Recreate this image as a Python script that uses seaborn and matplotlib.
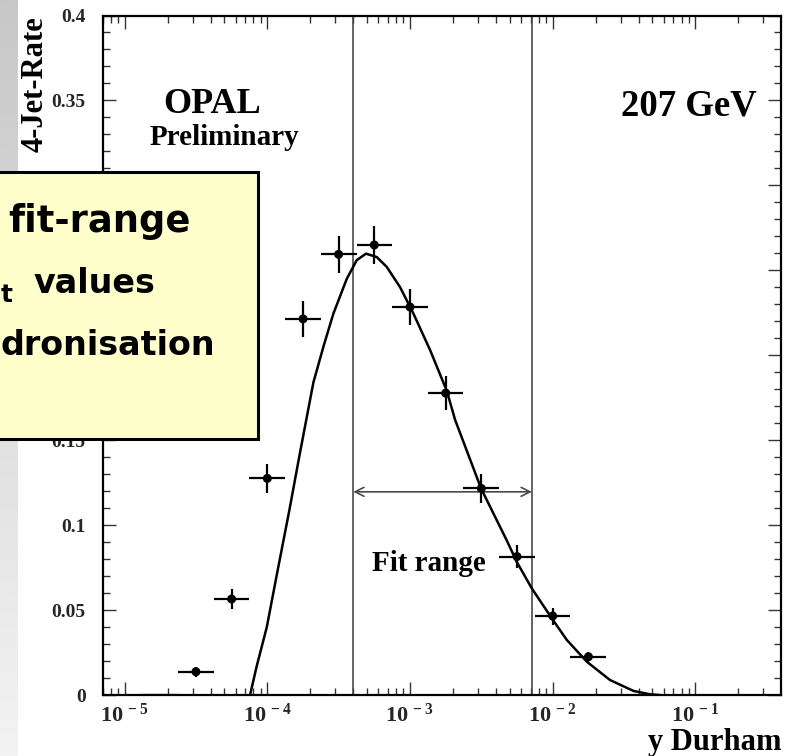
import numpy as np
import pandas as pd
import matplotlib
matplotlib.use("Agg")
import matplotlib.pyplot as plt
import seaborn as sns
from matplotlib.patches import Rectangle
from matplotlib.ticker import FixedLocator, FixedFormatter, MultipleLocator, LogLocator, NullFormatter

# ---------------- data ----------------
bin_center = [1.78e-5, 3.16e-5, 5.62e-5, 1.0e-4, 1.78e-4, 3.16e-4, 5.62e-4,
              1.0e-3, 1.78e-3, 3.16e-3, 5.62e-3, 1.0e-2, 1.78e-2]
bin_low = [1.33e-5, 2.37e-5, 4.22e-5, 7.5e-5, 1.33e-4, 2.37e-4, 4.22e-4,
           7.5e-4, 1.33e-3, 2.37e-3, 4.22e-3, 7.5e-3, 1.33e-2]
bin_high = [2.37e-5, 4.22e-5, 7.5e-5, 1.33e-4, 2.37e-4, 4.22e-4, 7.5e-4,
            1.33e-3, 2.37e-3, 4.22e-3, 7.5e-3, 1.33e-2, 2.37e-2]
rate = [0.0, 0.0137, 0.0565, 0.1275, 0.2214, 0.2594, 0.2649,
        0.2284, 0.1777, 0.1216, 0.0815, 0.0465, 0.0225]
rate_err = [0.0, 0.003, 0.006, 0.0085, 0.0106, 0.0108, 0.011,
            0.0106, 0.0098, 0.0083, 0.007, 0.005, 0.003]

fit_x = [7.57e-5, 8.43e-5, 9.92e-5, 1.167e-4, 1.429e-4, 1.698e-4, 2.104e-4,
         2.472e-4, 2.904e-4, 3.606e-4, 4.236e-4, 4.920e-4, 5.848e-4, 6.871e-4,
         8.531e-4, 1.057e-3, 1.384e-3, 1.811e-3, 2.070e-3, 3.148e-3, 4.764e-3,
         5.598e-3, 7.145e-3, 9.863e-3, 1.256e-2, 1.734e-2, 2.523e-2, 3.681e-2,
         4.819e-2, 5.62e-2]
fit_y = [0.0, 0.017, 0.040, 0.071, 0.109, 0.143, 0.184,
         0.205, 0.2245, 0.245, 0.256, 0.2598, 0.2578, 0.252,
         0.240, 0.2245, 0.203, 0.179, 0.162, 0.1216, 0.091,
         0.0784, 0.0627, 0.0451, 0.0324, 0.0196, 0.0088, 0.0024,
         0.0004, 0.0]

fit_range = [4.0e-4, 7.15e-3]
fit_arrow_y = 0.1196

xtick_vals = [1e-5, 1e-4, 1e-3, 1e-2, 1e-1]
xtick_labels = [r"$\mathbf{10^{\,-5}}$", r"$\mathbf{10^{\,-4}}$", r"$\mathbf{10^{\,-3}}$",
                r"$\mathbf{10^{\,-2}}$", r"$\mathbf{10^{\,-1}}$"]
ytick_vals = [0, 0.05, 0.1, 0.15, 0.2, 0.25, 0.3, 0.35, 0.4]
# labels 0.2-0.3 sit fully under the note box in the reference
ytick_labels = ["0", "0.05", "0.1", "0.15", "", "", "", "0.35", "0.4"]

df = pd.DataFrame({"y": bin_center, "rate": rate, "err": rate_err,
                   "lo": bin_low, "hi": bin_high})
fit_df = pd.DataFrame({"y": fit_x, "rate": fit_y})

# ---------------- style ----------------
sns.set_style("ticks")
plt.rcParams["font.family"] = ["Liberation Serif", "DejaVu Serif"]
plt.rcParams["mathtext.fontset"] = "custom"
plt.rcParams["mathtext.bf"] = "Liberation Serif:bold"
plt.rcParams["mathtext.rm"] = "Liberation Serif:bold"

W, H = 791, 756
fig = plt.figure(figsize=(W / 100, H / 100), dpi=100)
fig.patch.set_facecolor("white")

def fx(px):
    return px / W

def fy(py):
    return 1 - py / H

ax = fig.add_axes([fx(102.5), fy(695), (781 - 102.5) / W, (695 - 15.5) / H])

# fit range lines and arrow
for v in fit_range:
    ax.axvline(v, color="#4a4a4a", lw=1.2, zorder=1)
ax.annotate("", xy=(fit_range[1], fit_arrow_y), xytext=(fit_range[0], fit_arrow_y),
            arrowprops=dict(arrowstyle="<->", color="#4a4a4a", lw=1.2,
                            shrinkA=0, shrinkB=0, mutation_scale=16))

# error bars
xerr = [df["y"] - df["lo"], df["hi"] - df["y"]]
ax.errorbar(df["y"], df["rate"], xerr=xerr, yerr=df["err"], fmt="none",
            ecolor="black", elinewidth=1.6, capsize=0, zorder=3)
# markers
sns.scatterplot(data=df[df["rate"] > 0], x="y", y="rate", ax=ax, color="black",
                s=42, edgecolor="none", zorder=4, legend=False)
# fit curve
sns.lineplot(data=fit_df, x="y", y="rate", ax=ax, color="black", lw=1.8,
             sort=False, estimator=None, zorder=5)

ax.set_xscale("log")
ax.set_xlim(7.0e-6, 0.398)
ax.set_ylim(0, 0.4)
ax.set_xlabel("")
ax.set_ylabel("")

ax.xaxis.set_major_locator(FixedLocator(xtick_vals))
ax.xaxis.set_major_formatter(FixedFormatter(xtick_labels))
ax.xaxis.set_minor_locator(LogLocator(base=10, subs=np.arange(2, 10), numticks=20))
ax.xaxis.set_minor_formatter(NullFormatter())
ax.yaxis.set_major_locator(FixedLocator(ytick_vals))
ax.yaxis.set_major_formatter(FixedFormatter(ytick_labels))
ax.yaxis.set_minor_locator(MultipleLocator(0.01))

ax.tick_params(which="both", direction="in", top=True, right=True, width=1.0,
               color="#333333")
ax.tick_params(which="major", length=9.5)
ax.tick_params(which="minor", length=5)
ax.tick_params(axis="x", which="major", labelsize=16, pad=6)
ax.tick_params(axis="y", which="major", labelsize=14, pad=12)
for lab in ax.get_yticklabels():
    lab.set_fontweight("bold")
for s in ax.spines.values():
    s.set_linewidth(1.6)
    s.set_color("black")

# texts
bold = dict(fontweight="bold", family=["Liberation Serif", "DejaVu Serif"], color="black")
fig.text(fx(163), fy(113), "OPAL", fontsize=26, ha="left", va="baseline", **bold)
fig.text(fx(150), fy(145), "Preliminary", fontsize=21, ha="left", va="baseline", **bold)
fig.text(fx(757), fy(115), "207 GeV", fontsize=26.5, ha="right", va="baseline", **bold)
fig.text(fx(372), fy(571), "Fit range", fontsize=21, ha="left", va="baseline", **bold)
fig.text(fx(781), fy(750), "y Durham", fontsize=22, ha="right", va="baseline", **bold)
fig.text(fx(43), fy(16), "4-Jet-Rate", fontsize=22, rotation=90, rotation_mode="anchor",
         ha="right", va="baseline", **bold)

# slide background strip on the left
gax = fig.add_axes([0, 0, 18 / W, 1], zorder=0)
grad = np.linspace(0.78, 0.95, 256).reshape(-1, 1)
gax.imshow(grad, aspect="auto", cmap="gray", vmin=0, vmax=1)
gax.axis("off")

# overlay note box
box = Rectangle((fx(-5), fy(439)), (258 + 5) / W, (439 - 172) / H, transform=fig.transFigure,
                facecolor="#FFFFCC", edgecolor="black", lw=2.2, zorder=100)
fig.add_artist(box)
note = dict(fontweight="bold", family=["DejaVu Sans"], color="black", zorder=101)
fig.text(fx(8), fy(232), "fit-range", fontsize=26.5, ha="left", va="baseline", **note)
fig.text(fx(1), fy(302), "t", fontsize=18, ha="left", va="baseline", **note)
fig.text(fx(33), fy(293), "values", fontsize=24, ha="left", va="baseline", **note)
fig.text(fx(0), fy(355), "dronisation", fontsize=24, ha="left", va="baseline", **note)

fig.savefig("out.png", dpi=100)
